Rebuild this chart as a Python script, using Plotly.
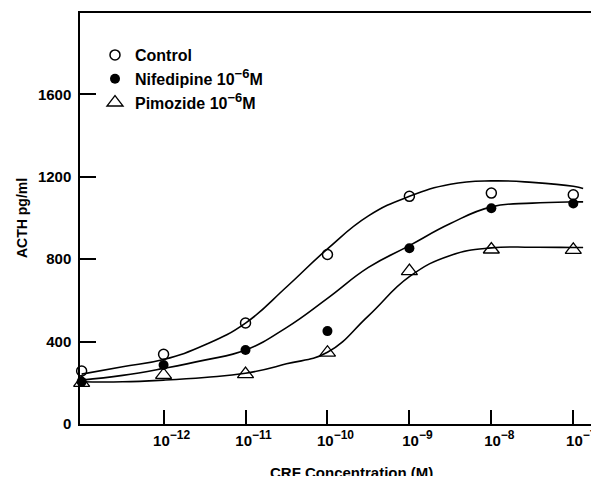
import plotly.graph_objects as go

# Data (CRF concentration; 1e-13 position = baseline)
x_pts = [1e-13, 1e-12, 1e-11, 1e-10, 1e-9, 1e-8, 1e-7]
control = [257, 338, 490, 823, 1105, 1121, 1113]
nifedipine = [205, 286, 359, 451, 853, 1047, 1070]
pimozide = [200, 238, 242, 346, 742, 847, 845]

# Fitted curves (log10 concentration -> ACTH)
curve_logx = [-13, -12.5, -12, -11.5, -11, -10.5, -10, -9.5, -9, -8.5, -8, -7.5, -7, -6.88]
control_curve = [242, 278, 313, 383, 490, 665, 850, 1010, 1105, 1164, 1180, 1173, 1154, 1143]
nifedipine_curve = [213, 236, 270, 310, 359, 468, 610, 760, 866, 973, 1054, 1072, 1078, 1078]
pimozide_curve = [205, 205, 213, 226, 246, 292, 348, 525, 715, 818, 855, 858, 857, 857]
curve_x = [10 ** v for v in curve_logx]

SUP = "<sup><span style='font-size:12px'>\u2212{}</span></sup>"
xtick_vals = [1e-12, 1e-11, 1e-10, 1e-9, 1e-8, 1e-7]
xtick_exps = ["12", "11", "10", "9", "8", "7"]
xtick_text = ["10" + SUP.format(e) for e in xtick_exps]
ytick_vals = [0, 400, 800, 1200, 1600]

FONT = "Liberation Sans"
fig = go.Figure()

for yc in [control_curve, nifedipine_curve, pimozide_curve]:
    fig.add_trace(go.Scatter(x=curve_x, y=yc, mode="lines",
                             line=dict(color="black", width=1.6, shape="spline", smoothing=1.3),
                             showlegend=False, hoverinfo="skip"))

fig.add_trace(go.Scatter(x=x_pts, y=control, mode="markers", name="Control",
                         marker=dict(symbol="circle-open", size=10, color="black", line=dict(width=1.5, color="black")),
                         cliponaxis=False))
fig.add_trace(go.Scatter(x=x_pts, y=nifedipine, mode="markers",
                         name="Nifedipine 10<sup><span style='font-size:13px'>\u22126</span></sup>M",
                         marker=dict(symbol="circle", size=10, color="black"),
                         cliponaxis=False))
fig.add_trace(go.Scatter(x=x_pts, y=pimozide, mode="markers",
                         name="Pimozide 10<sup><span style='font-size:13px'>\u22126</span></sup>M",
                         marker=dict(symbol="triangle-up-open", size=14, color="black", line=dict(width=1.3, color="black")),
                         cliponaxis=False))

# page body has an 8px margin; compensate so the plot area sits at x 80-595, y 13-424
fig.update_layout(
    width=591, height=468,
    margin=dict(l=72, r=4, t=5, b=52, autoexpand=False),
    plot_bgcolor="white", paper_bgcolor="white",
    font=dict(family=FONT, size=15, color="black", weight="bold"),
    showlegend=True,
    legend=dict(x=(95-80)/515, y=(424-38)/411, xanchor="left", yanchor="top", bgcolor="rgba(0,0,0,0)",
                font=dict(family=FONT, size=16, weight="bold"), tracegroupgap=0, itemwidth=30),
    xaxis=dict(type="log", range=[-13.02, -6.735], tickvals=xtick_vals, ticktext=xtick_text,
               ticks="inside", ticklen=14, tickwidth=1.5, tickcolor="black",
               showline=True, linecolor="black", linewidth=1.5, mirror=True,
               showgrid=False, zeroline=False, automargin=False,
               ticklabelshift=8, ticklabelstandoff=2, ticklabeloverflow="allow",
               tickfont=dict(family=FONT, size=15, weight="bold")),
    yaxis=dict(range=[0, 1995], tickvals=ytick_vals,
               ticks="inside", ticklen=16, tickwidth=1.5, tickcolor="black",
               showline=True, linecolor="black", linewidth=1.5, mirror=True,
               showgrid=False, zeroline=False, automargin=False,
               ticklabelstandoff=4,
               tickfont=dict(family=FONT, size=15, weight="bold")),
)

fig.add_annotation(text="CRF Concentration (M)", xref="paper", yref="paper", x=(351-80)/515, y=-(472-424)/411,
                   xanchor="center", yanchor="middle", showarrow=False,
                   font=dict(family=FONT, size=15, weight="bold"))
fig.add_annotation(text="ACTH pg/ml", xref="paper", yref="paper", x=-(80-22)/515, y=(424-218)/411,
                   xanchor="center", yanchor="middle", showarrow=False, textangle=-90,
                   font=dict(family=FONT, size=14, weight="bold"))

fig.write_html("out.html")
